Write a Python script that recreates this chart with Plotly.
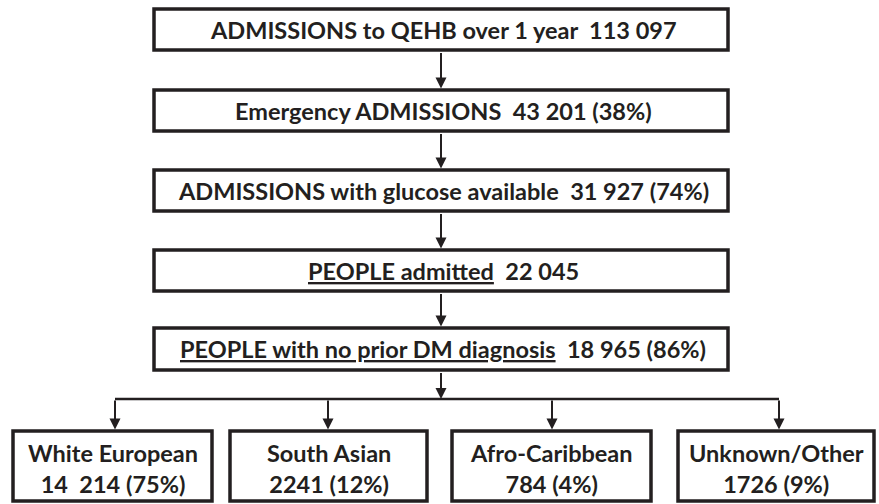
import plotly.graph_objects as go

# ---- data ----
step_labels = ["ADMISSIONS to QEHB over 1 year", "Emergency ADMISSIONS",
               "ADMISSIONS with glucose available", "PEOPLE admitted",
               "PEOPLE with no prior DM diagnosis"]
step_counts = ["113 097", "43 201", "31 927", "22 045", "18 965"]
step_pcts = [None, "38%", "74%", None, "86%"]
step_underline = [False, False, False, True, True]

group_labels = ["White European", "South Asian", "Afro-Caribbean", "Unknown/Other"]
group_counts = ["14\u00a0 214", "2241", "784", "1726"]
group_pcts = ["75%", "12%", "4%", "9%"]

# ---- layout geometry (pixels in the window) ----
W, H = 879, 504
step_x0, step_x1 = 154, 728
step_y = [(9, 50), (90, 131), (170, 211), (250, 291), (328, 370)]
cx = 441
branch_y = 399
group_x = [(13, 212), (230, 427), (452, 651), (678, 874)]
group_arrow_x = [115, 328, 552, 779]
group_y0, group_y1 = 431, 501

ink = "#231f20"
FONT = "Lato"
FS = 23.5
LW = 3.5

fig = go.Figure()
shapes = []
annotations = []

def fmt_step(lab, cnt, pct, ul):
    t = f"<u>{lab}</u>" if ul else lab
    t += f"\u00a0 {cnt}"
    if pct:
        t += f" ({pct})"
    return t

def arrow(x, y_tip, y_tail):
    return dict(x=x, y=y_tip, ax=x, ay=y_tail, xref="x", yref="y",
                axref="x", ayref="y", text="", showarrow=True,
                arrowhead=2, arrowsize=1.1, arrowwidth=2, arrowcolor=ink,
                standoff=0, startstandoff=0)

for i, (lab, cnt, pct, ul) in enumerate(zip(step_labels, step_counts, step_pcts, step_underline)):
    y0, y1 = step_y[i]
    shapes.append(dict(type="rect", x0=step_x0, x1=step_x1, y0=y0, y1=y1,
                       line=dict(color=ink, width=LW), fillcolor="white", layer="below"))
    annotations.append(dict(x=(step_x0 + step_x1) / 2 + 2, y=(y0 + y1) / 2, xref="x", yref="y",
                            text=fmt_step(lab, cnt, pct, ul), showarrow=False,
                            font=dict(family=FONT, size=FS, color=ink, weight="bold"),
                            xanchor="center", yanchor="middle"))
    if i > 0:
        annotations.append(arrow(cx, y0 - 1.5, step_y[i - 1][1] + 1.5))

# branch
shapes.append(dict(type="line", x0=group_arrow_x[0], x1=group_arrow_x[-1], y0=branch_y, y1=branch_y,
                   line=dict(color=ink, width=2.5)))
annotations.append(arrow(cx, branch_y, step_y[-1][1] + 1.5))

for j, (lab, cnt, pct) in enumerate(zip(group_labels, group_counts, group_pcts)):
    x0, x1 = group_x[j]
    shapes.append(dict(type="rect", x0=x0, x1=x1, y0=group_y0, y1=group_y1,
                       line=dict(color=ink, width=LW), fillcolor="white", layer="below"))
    annotations.append(arrow(group_arrow_x[j], group_y0 - 1.5, branch_y))
    annotations.append(dict(x=(x0 + x1) / 2, y=(group_y0 + group_y1) / 2 + 2, xref="x", yref="y",
                            text=f"{lab}<br>{cnt} ({pct})", showarrow=False,
                            font=dict(family=FONT, size=FS, color=ink, weight="bold"),
                            xanchor="center", yanchor="middle"))

fig.update_layout(
    width=W, height=H, margin=dict(l=0, r=0, t=0, b=0),
    paper_bgcolor="white", plot_bgcolor="white",
    xaxis=dict(range=[0, W], visible=False, fixedrange=True),
    yaxis=dict(range=[H, 0], visible=False, fixedrange=True),
    shapes=shapes, annotations=annotations, showlegend=False,
)

fig.write_html("out.html", config={"displayModeBar": False, "staticPlot": True},
               post_script="document.body.style.margin='0';document.body.style.overflow='hidden';")
